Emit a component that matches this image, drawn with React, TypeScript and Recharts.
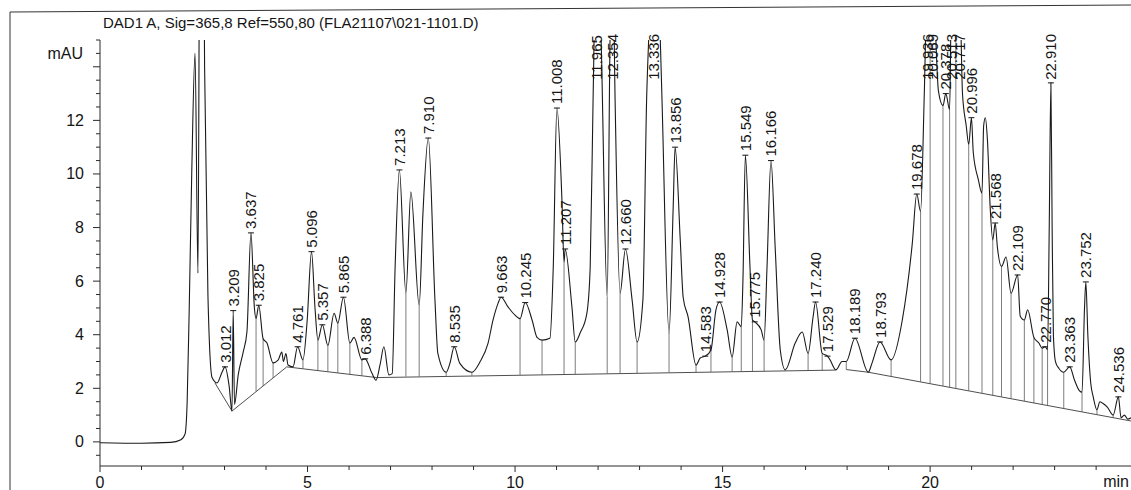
import { ComposedChart, Line, XAxis, YAxis, ReferenceLine, ReferenceDot } from 'recharts';

const TITLE = 'DAD1 A, Sig=365,8 Ref=550,80 (FLA21107\\021-1101.D)';

// signal trace, [min, mAU]
const TRACE_0_5: [number, number][] = [
  [0, -0.03], [1.0, -0.05], [1.7, -0.02], [1.95, 0.08], [2.05, 0.3], [2.1, 1.5], [2.15, 5.0],
  [2.21, 10.0], [2.29, 14.5], [2.36, 6.3], [2.41, 22], [2.48, 22], [2.52, 14], [2.6, 5.5],
  [2.7, 2.4], [2.82, 2.2], [2.94, 2.6], [3.012, 2.8], [3.11, 2.1], [3.18, 1.15], [3.209, 4.9],
  [3.24, 1.4], [3.33, 2.5], [3.45, 3.35], [3.54, 4.1], [3.637, 7.8], [3.72, 5.0], [3.76, 4.6],
  [3.825, 5.1], [3.93, 3.85], [4.02, 3.7], [4.17, 2.95], [4.29, 3.05], [4.38, 3.35], [4.42, 3.0],
  [4.48, 3.3], [4.53, 2.87], [4.65, 2.8], [4.761, 3.55], [4.89, 3.06], [4.99, 4.5],
];
const TRACE_5_10: [number, number][] = [
  [5.096, 7.1], [5.18, 5.0], [5.25, 3.8], [5.357, 4.37], [5.49, 3.6], [5.64, 4.8], [5.73, 4.43],
  [5.865, 5.4], [6.02, 3.69], [6.12, 3.9], [6.31, 3.06], [6.388, 3.1], [6.55, 2.57], [6.65, 2.3],
  [6.75, 2.9], [6.84, 3.55], [6.96, 2.5], [7.04, 2.55], [7.11, 6.5], [7.213, 10.15], [7.37, 5.55],
  [7.49, 9.33], [7.69, 5.1], [7.78, 8.5], [7.91, 11.34], [8.07, 5.3], [8.14, 3.3], [8.34, 2.6],
  [8.43, 2.93], [8.535, 3.55], [8.67, 2.93], [8.96, 2.6], [9.16, 3.0], [9.35, 3.69], [9.47, 4.55],
  [9.59, 5.17], [9.663, 5.4], [9.83, 5.04], [10.0, 4.73],
];
const TRACE_10_15: [number, number][] = [
  [10.12, 4.6], [10.245, 5.2], [10.41, 4.55], [10.53, 3.9], [10.65, 3.8], [10.84, 3.87],
  [10.92, 6.5], [11.008, 12.46], [11.13, 9.0], [11.18, 6.7], [11.207, 7.2], [11.37, 5.04],
  [11.45, 3.73], [11.57, 4.07], [11.73, 4.8], [11.81, 6.5], [11.88, 12.8], [11.965, 19],
  [12.07, 15.2], [12.22, 5.4], [12.29, 15.2], [12.354, 18], [12.41, 12.8], [12.53, 5.55],
  [12.66, 7.2], [12.82, 5.3], [12.94, 3.73], [13.08, 5.3], [13.17, 12.8], [13.23, 15.5],
  [13.336, 21], [13.49, 15.5], [13.54, 12.8], [13.71, 4.07], [13.81, 8.77], [13.856, 11.0],
  [13.98, 7.54], [14.05, 5.4], [14.17, 4.66], [14.36, 2.87], [14.46, 3.13], [14.583, 3.2],
  [14.72, 3.43], [14.84, 4.93], [14.928, 5.22],
];
const TRACE_15_20: [number, number][] = [
  [15.11, 4.18], [15.23, 3.17], [15.35, 4.48], [15.45, 4.3], [15.49, 6.0], [15.549, 10.7],
  [15.66, 6.53], [15.72, 4.55], [15.775, 4.48], [15.93, 4.18], [16.0, 3.8], [16.07, 6.5],
  [16.166, 10.5], [16.27, 7.16], [16.39, 3.43], [16.51, 2.69], [16.75, 3.69], [16.92, 4.1],
  [17.06, 3.3], [17.18, 4.66], [17.24, 5.22], [17.4, 3.3], [17.529, 3.2], [17.59, 3.06],
  [17.73, 2.69], [17.88, 3.0], [17.98, 3.0], [18.189, 3.87], [18.51, 2.6], [18.6, 2.94],
  [18.793, 3.73], [19.06, 3.06], [19.33, 4.55], [19.57, 7.4], [19.678, 9.25], [19.77, 8.6],
  [19.86, 13.0], [19.936, 17.5], [20.0, 15.6],
];
const TRACE_20_25: [number, number][] = [
  [20.069, 17], [20.2, 13.1], [20.31, 12.55], [20.378, 13.0], [20.47, 12.4], [20.513, 16.5],
  [20.62, 15.3], [20.717, 16.5], [20.78, 13.0], [20.87, 11.8], [20.93, 11.1], [20.996, 12.1],
  [21.04, 10.8], [21.16, 9.8], [21.25, 9.28], [21.29, 11.8], [21.33, 12.1], [21.38, 11.3],
  [21.45, 8.66], [21.51, 7.54], [21.568, 8.17], [21.62, 7.28], [21.72, 6.55], [21.83, 6.9],
  [21.95, 5.55], [22.109, 6.23], [22.17, 4.7], [22.27, 4.55], [22.35, 4.93], [22.5, 3.9],
  [22.62, 3.69], [22.7, 3.5], [22.77, 3.55], [22.83, 3.45], [22.87, 8.0], [22.91, 13.4],
  [22.94, 8.0], [22.97, 4.0], [23.02, 3.0], [23.1, 2.75], [23.22, 2.6], [23.363, 2.8],
  [23.48, 2.3], [23.6, 1.9], [23.66, 1.85], [23.72, 5.0], [23.752, 5.97], [23.8, 4.0],
  [23.87, 2.2], [23.93, 1.68], [24.02, 1.2], [24.09, 1.5], [24.15, 1.45], [24.27, 1.3],
  [24.41, 1.0], [24.536, 1.68], [24.6, 0.9], [24.68, 1.0], [24.76, 0.85], [24.84, 0.9],
];

// integration baseline (null = break)
const BASELINE: [number, number | null][] = [
  [2.77, 2.2], [3.18, 1.15], [4.5, 2.8], [6.67, 2.4], [17.73, 2.68], [17.85, null],
  [17.98, 2.7], [18.51, 2.6], [24.84, 0.78],
];

// drop lines at peak boundaries: [min, baseline mAU, signal mAU]
const DROPS: [number, number, number][] = [
  [3.76, 1.88, 4.6], [3.93, 2.09, 3.85], [4.17, 2.39, 2.95], [4.89, 2.73, 3.06], [5.25, 2.66, 3.8],
  [5.49, 2.62, 3.6], [5.73, 2.57, 4.43], [6.02, 2.52, 3.69], [6.31, 2.46, 3.06],
  [7.37, 2.44, 5.55], [7.69, 2.44, 5.1], [8.34, 2.46, 2.6], [8.96, 2.47, 2.6], [10.12, 2.5, 4.6],
  [10.65, 2.51, 3.8], [11.18, 2.53, 6.7], [11.45, 2.53, 3.73], [12.22, 2.55, 5.4],
  [12.53, 2.56, 5.55], [12.94, 2.57, 3.73], [13.71, 2.59, 4.07], [14.36, 2.6, 2.87],
  [14.72, 2.61, 3.43], [15.23, 2.62, 3.17], [15.45, 2.63, 4.3], [15.72, 2.63, 4.55],
  [16.0, 2.64, 3.8], [16.51, 2.65, 2.69], [17.06, 2.66, 3.3], [17.4, 2.67, 3.3], [17.98, 2.7, 3.0],
  [19.06, 2.45, 3.06], [19.77, 2.24, 8.6], [20.0, 2.18, 15.6], [20.31, 2.09, 12.55],
  [20.47, 2.04, 12.4], [20.62, 2.0, 15.3], [20.93, 1.91, 11.1], [21.25, 1.82, 9.28],
  [21.51, 1.74, 7.54], [21.72, 1.68, 6.55], [21.95, 1.61, 5.55], [22.27, 1.52, 4.55],
  [22.5, 1.45, 3.9], [22.7, 1.39, 3.5], [22.83, 1.36, 3.45], [23.22, 1.24, 2.6],
  [23.66, 1.12, 1.85], [24.02, 1.01, 1.2], [24.41, 0.9, 1.0],
];

// labelled peaks: [retention time, apex mAU]
const PEAKS: [number, number][] = [
  [3.012, 2.8], [3.209, 4.9], [3.637, 7.8], [3.825, 5.1], [4.761, 3.55], [5.096, 7.1],
  [5.357, 4.37], [5.865, 5.4], [6.388, 3.1], [7.213, 10.15], [7.91, 11.34], [8.535, 3.55],
  [9.663, 5.4], [10.245, 5.2], [11.008, 12.46], [11.207, 7.2], [11.965, 19], [12.354, 18],
  [12.66, 7.2], [13.336, 21], [13.856, 11.0], [14.583, 3.2], [14.928, 5.22], [15.549, 10.7],
  [15.775, 4.48], [16.166, 10.5], [17.24, 5.22], [17.529, 3.2], [18.189, 3.87], [18.793, 3.73],
  [19.678, 9.25], [19.936, 17.5], [20.069, 17], [20.378, 13.0], [20.513, 16.5], [20.717, 16.5],
  [20.996, 12.1], [21.568, 8.17], [22.109, 6.23], [22.77, 3.55], [22.91, 13.4], [23.363, 2.8],
  [23.752, 5.97], [24.536, 1.68],
];

const X_TICKS = [0, 1, 2, 3, 4, 5, 6, 7, 8, 9, 10, 11, 12, 13, 14, 15, 16, 17, 18, 19, 20, 21, 22, 23, 24];
const X_LABELS = [0, 5, 10, 15, 20];
const Y_LABELS = [0, 2, 4, 6, 8, 10, 12];
const Y_TICKS = Array.from({ length: 32 }, (_, i) => -0.5 + i * 0.5);

const X_MAX = 24.84;
const Y_MIN = -0.9;
const Y_MAX = 15.0;

const INK = '#151515';
const AXIS = '#2a2a2a';
const FONT = 'Arial, "Liberation Sans", sans-serif';

const trace = [...TRACE_0_5, ...TRACE_5_10, ...TRACE_10_15, ...TRACE_15_20, ...TRACE_20_25].map(([t, y]) => ({ t, y }));
const baseline = BASELINE.map(([t, y]) => ({ t, y }));

const XTick = ({ x, y, payload }: any) => {
  const major = X_LABELS.includes(payload.value);
  return (
    <g>
      <line x1={x} x2={x} y1={y} y2={y + (major ? 6 : 4)} stroke={AXIS} />
      {major && (
        <text x={x} y={y + 22} textAnchor="middle" fontSize={16} fill={INK} fontFamily={FONT}>
          {payload.value}
        </text>
      )}
    </g>
  );
};

const YTick = ({ x, y, payload }: any) => {
  const v = payload.value;
  const major = Number.isInteger(v) && v % 2 === 0;
  return (
    <g>
      <line x1={x - (major ? 7 : 4)} x2={x} y1={y} y2={y} stroke={AXIS} />
      {Y_LABELS.includes(v) && (
        <text x={x - 16} y={y + 5.5} textAnchor="end" fontSize={16} fill={INK} fontFamily={FONT}>
          {v}
        </text>
      )}
    </g>
  );
};

// rotated retention-time label; pushed down to stay on the page for off-scale peaks
const PeakLabel = ({ cx, cy, text, onScale }: { cx: number; cy: number; text: string; onScale: boolean }) => {
  const len = (text.length - 1) * 8.34 + 4.17;
  const base = Math.max(cy - 4, 34 + len);
  return (
    <g>
      {onScale && <line x1={cx - 3} x2={cx + 3} y1={cy} y2={cy} stroke={INK} />}
      <text
        transform={`translate(${cx + 5.5},${base}) rotate(-90)`}
        fontSize={15}
        fill={INK}
        fontFamily={FONT}
      >
        {text}
      </text>
    </g>
  );
};

export default function App() {
  return (
    <div style={{ position: 'absolute', left: 0, top: 0, width: 1131, height: 490, background: '#fff', fontFamily: FONT, overflow: 'hidden' }}>
      <ComposedChart width={1131} height={490} margin={{ top: 40, right: 0, bottom: 0, left: 0 }}>
        <XAxis
          dataKey="t"
          type="number"
          domain={[0, X_MAX]}
          allowDataOverflow
          ticks={X_TICKS}
          interval={0}
          tickLine={false}
          tickSize={0}
          tickMargin={0}
          tick={XTick}
          axisLine={{ stroke: AXIS }}
          height={24}
        />
        <YAxis
          dataKey="y"
          type="number"
          domain={[Y_MIN, Y_MAX]}
          allowDataOverflow
          ticks={Y_TICKS}
          interval={0}
          tickLine={false}
          tickSize={0}
          tickMargin={0}
          tick={YTick}
          axisLine={{ stroke: AXIS }}
          width={100}
        />
        <Line data={baseline} dataKey="y" type="linear" stroke="#3a3a3a" strokeWidth={0.9} dot={false} connectNulls={false} isAnimationActive={false} />
        {DROPS.map(([t, y0, y1]) => (
          <ReferenceLine
            key={`d-${t}`}
            segment={[{ x: t, y: y0 }, { x: t, y: Math.min(y1, Y_MAX) }]}
            stroke="#5a5a5a"
            strokeWidth={0.8}
            ifOverflow="hidden"
          />
        ))}
        <Line data={trace} dataKey="y" type="monotoneX" stroke="#1a1a1a" strokeWidth={1.1} dot={false} isAnimationActive={false} />
        {PEAKS.map(([rt, h]) => (
          <ReferenceDot
            key={`p-${rt}`}
            x={rt}
            y={h}
            r={0}
            ifOverflow="visible"
            shape={(p: any) => <PeakLabel cx={p.cx} cy={p.cy} text={rt.toFixed(3)} onScale={h <= Y_MAX} />}
          />
        ))}
      </ComposedChart>
      <svg width={1131} height={490} style={{ position: 'absolute', left: 0, top: 0, pointerEvents: 'none' }}>
        <line x1={10} y1={12} x2={1131} y2={5} stroke="#333" />
        <line x1={10} y1={12} x2={10} y2={490} stroke="#333" />
        <text x={103} y={28} fontSize={15} fill={INK} fontFamily={FONT}>{TITLE}</text>
        <text x={83} y={59} fontSize={16} fill={INK} fontFamily={FONT} textAnchor="end">mAU</text>
        <text x={1129} y={487} fontSize={16} fill={INK} fontFamily={FONT} textAnchor="end">min</text>
      </svg>
    </div>
  );
}
